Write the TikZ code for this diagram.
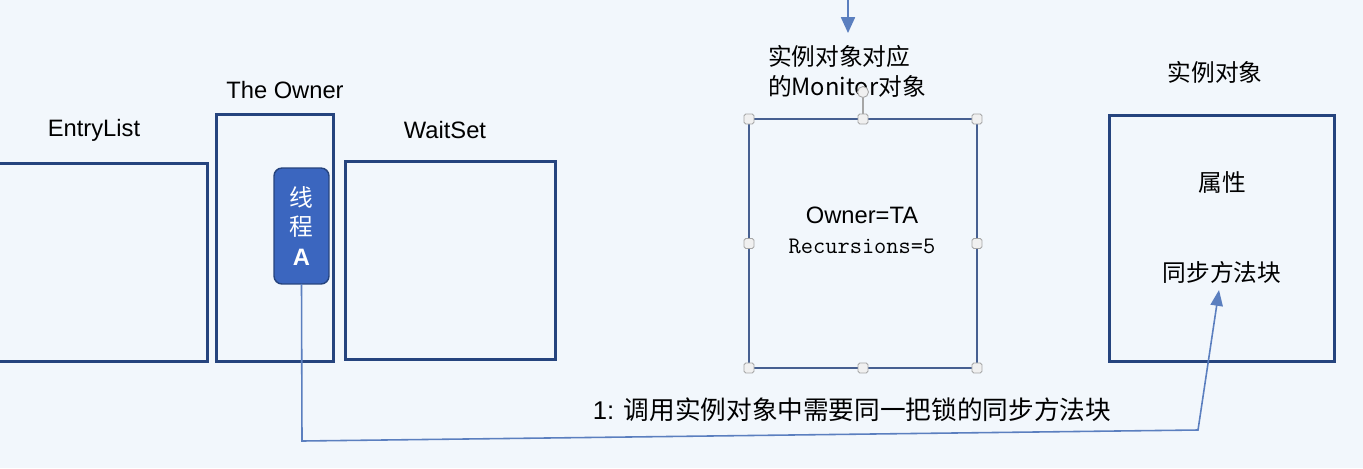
\documentclass[tikz,border=0pt]{standalone}
\usepackage{fontspec}
\setmainfont{Liberation Sans}
\setmonofont{Latin Modern Mono}
\newfontfamily\cjk{Noto Sans CJK SC}
\usetikzlibrary{arrows.meta,positioning}
\definecolor{bgcol}{HTML}{F2F7FC}
\definecolor{boxcol}{HTML}{26447E}
\definecolor{thcol}{HTML}{3B66BF}
\definecolor{linecol}{HTML}{5B7FBF}
\tikzset{
  every node/.style={font=\fontsize{13.5}{17}\selectfont, inner sep=0pt, outer sep=0pt},
  listbox/.style={draw=boxcol, line width=1.7pt, minimum width=#1},
  handle/.style={draw=gray!70, fill=gray!12, rounded corners=1pt, minimum size=0.2cm, line width=0.5pt},
  conn/.style={draw=linecol, line width=0.9pt},
}

\begin{document}
\begin{tikzpicture}[x=0.02cm,y=-0.02cm]
\fill[bgcol] (0,0) rectangle (1363,468);
\useasboundingbox (0,0) rectangle (1363,468);
\node[listbox=4.56cm, minimum height=3.98cm] (entry) at (94,262.5) {};
\node[listbox=2.36cm, minimum height=4.96cm] (owner) at (275,238) {};
\node[listbox=4.22cm, minimum height=3.98cm] (wait) at (450.5,260.5) {};
\node[fill=thcol, draw=boxcol, line width=0.8pt, rounded corners=0.16cm,
      minimum width=1.1cm, minimum height=2.32cm, align=center,
      text=white] (thread) at (301.5,226) {\cjk 线\\\cjk 程\\\textbf{A}};
\node (entrylbl) at (94,130) {EntryList};
\node (ownerlbl) at (285,90) {The Owner};
\node (waitlbl) at (445,130) {WaitSet};

\node[draw=boxcol!85, line width=1pt, minimum width=4.56cm, minimum height=4.98cm] (mon) at (863,243.5) {};
\node[anchor=west, align=left] (monlbl) at (768,71) {\cjk 实例对象对应\\\cjk 的Monitor\cjk 对象};
\node (ownerta) at (862,215) {Owner=TA};
\node (recur) at (862,246) {\ttfamily Recursions=5};
\node[draw=gray!70, fill=gray!12, circle, minimum size=0.22cm, line width=0.5pt] (rot) at (863,92) {};
\draw[gray!70, line width=0.6pt] (rot) -- (mon.north);
\foreach \a in {north west, north, north east, east, south east, south, south west, west}
  \node[handle] at (mon.\a) {};

\node[listbox=4.52cm, minimum height=4.94cm] (inst) at (1222,238.5) {};
\node (instlbl) at (1215,72) {\cjk 实例对象};
\node (attr) at (1222,182) {\cjk 属性};
\node (sync) at (1222,272) {\cjk 同步方法块};

\coordinate (top) at (848,0);
\coordinate (topend) at (848,33);
\draw[conn, -{Triangle[length=9pt,width=8pt]}] (top) -- (topend);

\coordinate (low) at (302,441);
\coordinate (bend) at (1198,430);
\coordinate (tip) at (1219,290);
\draw[conn, -{Triangle[length=9pt,width=7pt]}] (thread.south) -- (low) -- (bend) -- (tip);
\node[font=\fontsize{14.6}{18}\selectfont] (call) at (852,410) {1: \cjk 调用实例对象中需要同一把锁的同步方法块};
\end{tikzpicture}
\end{document}
